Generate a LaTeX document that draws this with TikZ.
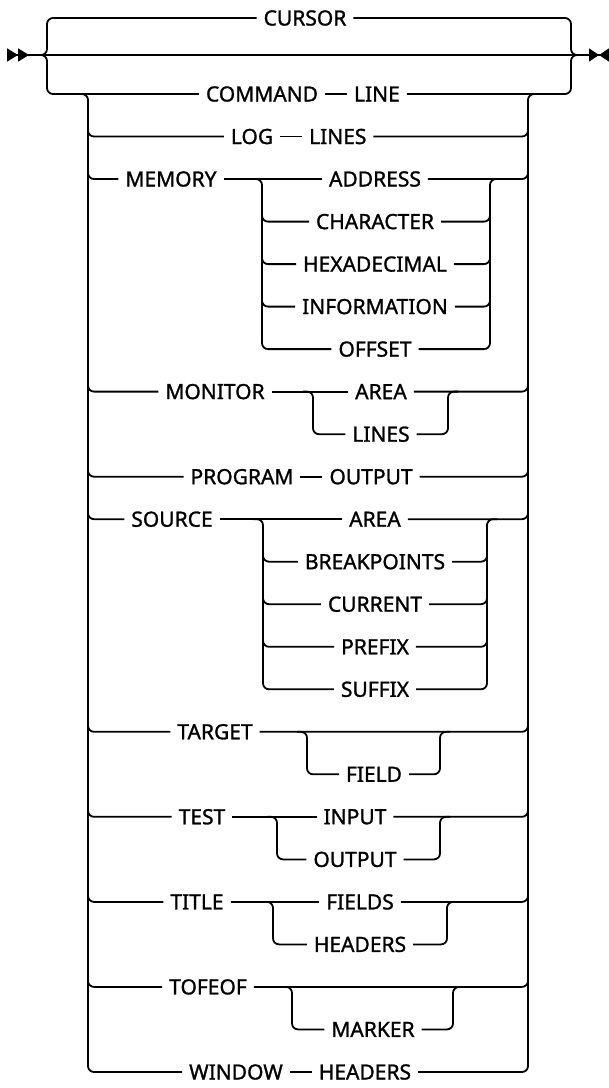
\documentclass[tikz,border=0pt]{standalone}
\usepackage{fontspec}
\setmainfont{Noto Sans}
\newfontfamily\railfont{Noto Sans}[FakeBold=1.2]
\usetikzlibrary{positioning,arrows.meta}

\begin{document}
\begin{tikzpicture}[
		x=1pt, y=-1pt,
		node distance=22pt,
		kw/.style={
			font=\railfont\fontsize{21}{24}\selectfont,
			inner xsep=7pt,
			inner ysep=2pt,
			outer sep=0pt
		},
		rail/.style={line width=1.8pt, rounded corners=6pt}
		]
		\useasboundingbox (0,0) rectangle (609,1088);
		
		% junction points
		\coordinate (start) at (7,55);
		\coordinate (finish) at (609,55);
		\coordinate (lbrace) at (47,55);
		\coordinate (rbrace) at (571,55);
		\coordinate (inl) at (88,94);
		\coordinate (inr) at (528,94);
		\coordinate (memL) at (262,179);
		\coordinate (memR) at (490,179);
		\coordinate (monL) at (313,391.6);
		\coordinate (monR) at (448,391.6);
		\coordinate (srcL) at (263,519.2);
		\coordinate (srcR) at (487,519.2);
		\coordinate (tgtL) at (307,731.8);
		\coordinate (tgtR) at (440,731.8);
		\coordinate (tstL) at (277,816.8);
		\coordinate (tstR) at (440,816.8);
		\coordinate (ttlL) at (273,901.9);
		\coordinate (ttlR) at (447,901.9);
		\coordinate (tofL) at (292,986.9);
		\coordinate (tofR) at (453,986.9);
		
		% keywords
		\node[kw] (cursor) at (305,18) {CURSOR};
		\node[kw] (command) at (262,94) {COMMAND};
		\node[kw,right=of command] (cmdline) {LINE};
		\node[kw] (log) at (252,136.5) {LOG};
		\node[kw,right=of log] (loglines) {LINES};
		\node[kw] (memory) at (171,179) {MEMORY};
		\node[kw] (address) at (375,179) {ADDRESS};
		\node[kw] (character) at (375,221.6) {CHARACTER};
		\node[kw] (hexadecimal) at (375,264.1) {HEXADECIMAL};
		\node[kw] (information) at (375,306.6) {INFORMATION};
		\node[kw] (offset) at (375,349.1) {OFFSET};
		\node[kw] (monitor) at (215,391.6) {MONITOR};
		\node[kw] (monarea) at (381,391.6) {AREA};
		\node[kw] (monlines) at (381,434.2) {LINES};
		\node[kw] (program) at (242,476.7) {PROGRAM};
		\node[kw,right=of program] (progoutput) {OUTPUT};
		\node[kw] (source) at (172,519.2) {SOURCE};
		\node[kw] (srcarea) at (375,519.2) {AREA};
		\node[kw] (breakpoints) at (375,561.7) {BREAKPOINTS};
		\node[kw] (current) at (375,604.2) {CURRENT};
		\node[kw] (prefix) at (375,646.8) {PREFIX};
		\node[kw] (suffix) at (375,689.3) {SUFFIX};
		\node[kw] (target) at (215,731.8) {TARGET};
		\node[kw] (field) at (374,774.3) {FIELD};
		\node[kw] (test) at (202,816.8) {TEST};
		\node[kw] (input) at (355,816.8) {INPUT};
		\node[kw] (testoutput) at (355,859.4) {OUTPUT};
		\node[kw] (title) at (197,901.9) {TITLE};
		\node[kw] (fields) at (360,901.9) {FIELDS};
		\node[kw] (headers) at (360,944.4) {HEADERS};
		\node[kw] (tofeof) at (208,986.9) {TOFEOF};
		\node[kw] (marker) at (373,1029.4) {MARKER};
		\node[kw] (window) at (236,1072) {WINDOW};
		\node[kw,right=of window] (winheaders) {HEADERS};
		
		% main line with start and end marks
		\draw[rail,
		{Triangle[reversed,length=11pt,width=13pt,sep=0pt]Triangle[reversed,length=11pt,width=13pt,sep=0pt]}-{Triangle[length=10pt,width=13pt,sep=0pt]Triangle[reversed,length=10pt,width=13pt,sep=0pt]}]
		(start) -- (finish);
		
		% outer choice
		\draw[rail] ([xshift=-7pt]lbrace) -| (lbrace |- cursor) -- (cursor.west);
		\draw[rail] ([xshift=-7pt]lbrace) -| (lbrace |- command) -- (command.west);
		\draw[rail] (cursor.east) -| (rbrace) -- ([xshift=7pt]rbrace);
		\draw[rail] (command.east) -- (cmdline.west);
		\draw[rail] (cmdline.east) -| (rbrace) -- ([xshift=7pt]rbrace);
		
		% inner choice
		\draw[rail] ([xshift=-10pt]inl) -| (inl |- window) -- (window.west);
		\foreach \n in {log,memory,monitor,program,source,target,test,title,tofeof}
		\draw[rail] ([yshift=12pt]inl |- \n) |- (\n.west);
		\draw[rail] (winheaders.east) -| (inr) -- ([xshift=10pt]inr);
		\foreach \n in {loglines,address,monarea,progoutput,srcarea,target,input,fields,tofeof}
		\draw[rail] (\n.east) -| ([yshift=12pt]inr |- \n);
		\draw[rail] (log.east) -- (loglines.west);
		\draw[rail] (program.east) -- (progoutput.west);
		\draw[rail] (window.east) -- (winheaders.west);
		
		% MEMORY
		\draw[rail] (memory.east) -- (address.west);
		\draw[rail] ([xshift=-10pt]memL) -| (memL |- offset) -- (offset.west);
		\draw[rail] (offset.east) -| (memR) -- ([xshift=10pt]memR);
		\foreach \n in {character,hexadecimal,information} {
			\draw[rail] ([yshift=12pt]memL |- \n) |- (\n.west);
			\draw[rail] (\n.east) -| ([yshift=12pt]memR |- \n);
		}
		
		% MONITOR
		\draw[rail] (monitor.east) -- (monarea.west);
		\draw[rail] ([xshift=-10pt]monL) -| (monL |- monlines) -- (monlines.west);
		\draw[rail] (monlines.east) -| (monR) -- ([xshift=10pt]monR);
		
		% SOURCE
		\draw[rail] (source.east) -- (srcarea.west);
		\draw[rail] ([xshift=-10pt]srcL) -| (srcL |- suffix) -- (suffix.west);
		\draw[rail] (suffix.east) -| (srcR) -- ([xshift=10pt]srcR);
		\foreach \n in {breakpoints,current,prefix} {
			\draw[rail] ([yshift=12pt]srcL |- \n) |- (\n.west);
			\draw[rail] (\n.east) -| ([yshift=12pt]srcR |- \n);
		}
		
		% TARGET
		\draw[rail] ([xshift=-10pt]tgtL) -| (tgtL |- field) -- (field.west);
		\draw[rail] (field.east) -| (tgtR) -- ([xshift=10pt]tgtR);
		
		% TEST
		\draw[rail] (test.east) -- (input.west);
		\draw[rail] ([xshift=-10pt]tstL) -| (tstL |- testoutput) -- (testoutput.west);
		\draw[rail] (testoutput.east) -| (tstR) -- ([xshift=10pt]tstR);
		
		% TITLE
		\draw[rail] (title.east) -- (fields.west);
		\draw[rail] ([xshift=-10pt]ttlL) -| (ttlL |- headers) -- (headers.west);
		\draw[rail] (headers.east) -| (ttlR) -- ([xshift=10pt]ttlR);
		
		% TOFEOF
		\draw[rail] ([xshift=-10pt]tofL) -| (tofL |- marker) -- (marker.west);
		\draw[rail] (marker.east) -| (tofR) -- ([xshift=10pt]tofR);
		
	\end{tikzpicture}
\end{document}
